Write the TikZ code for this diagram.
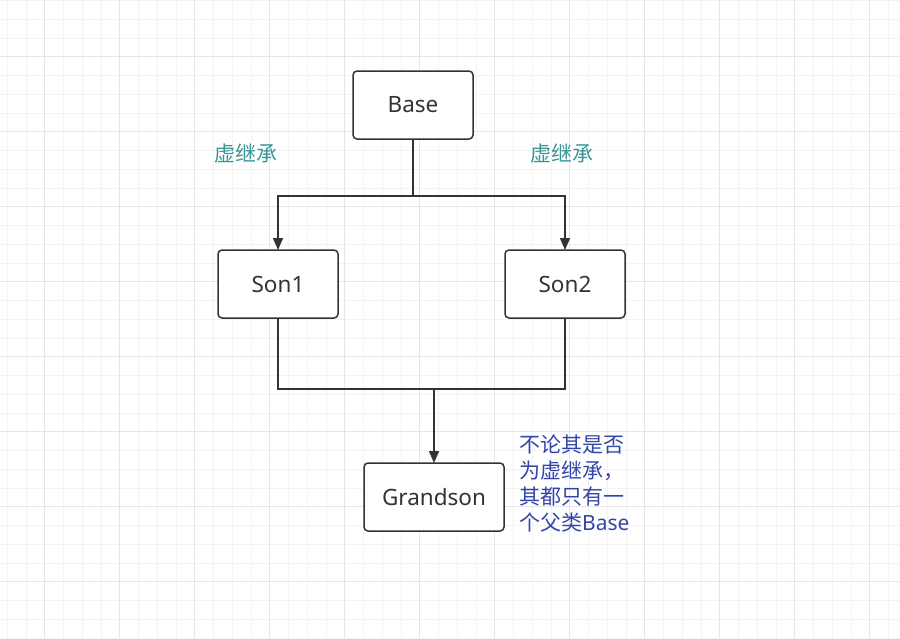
\documentclass[tikz,border=0pt]{standalone}
\usepackage{fontspec}
\setmainfont{Noto Sans}
\newfontfamily\cjk{Noto Sans CJK SC}
\usetikzlibrary{arrows.meta}
\definecolor{gridminor}{HTML}{F3F3F3}
\definecolor{gridmajor}{HTML}{E6E6E6}
\definecolor{ink}{HTML}{333333}
\definecolor{tealtxt}{HTML}{3A9696}
\definecolor{bluetxt}{HTML}{3445AA}
\tikzset{
  box/.style={draw=ink, line width=1.5pt, rounded corners=4pt, fill=white,
    minimum width=120pt, minimum height=68pt, inner sep=0pt, outer sep=0pt,
    text=ink, font=\fontsize{22.5pt}{26pt}\selectfont},
  conn/.style={draw=ink, line width=1.5pt},
  arr/.style={conn, -{Triangle[length=12pt,width=10pt]}},
  note/.style={font=\fontsize{21pt}{25pt}\selectfont\cjk, inner sep=0pt}
}
\begin{document}
\begin{tikzpicture}[x=1pt,y=-1pt]
\useasboundingbox (0,0) rectangle (900,638);
\fill[white] (0,0) rectangle (900,638);
% grid
\foreach \i in {0,...,48} {
  \pgfmathsetmacro{\xx}{7.3+18.75*\i}
  \draw[gridminor, line width=1pt] (\xx,0) -- (\xx,638);
}
\foreach \i in {0,...,34} {
  \pgfmathsetmacro{\yy}{0.5+18.75*\i}
  \draw[gridminor, line width=1pt] (0,\yy) -- (900,\yy);
}
\foreach \i in {0,...,11} {
  \pgfmathsetmacro{\xx}{44.8+75*\i}
  \draw[gridmajor, line width=1pt] (\xx,0) -- (\xx,638);
}
\foreach \i in {0,...,8} {
  \pgfmathsetmacro{\yy}{56.5+75*\i}
  \draw[gridmajor, line width=1pt] (0,\yy) -- (900,\yy);
}
% nodes
\node[box] (Base) at (413,105) {Base};
\node[box] (Son1) at (278,284) {Son1};
\node[box] (Son2) at (565,284) {Son2};
\node[box, minimum width=140pt] (Grandson) at (434,497) {Grandson};
\coordinate (j1) at (413,196);
\coordinate (j2) at (434,389);
% connectors
\draw[conn] (Base.south) -- (j1);
\draw[arr] (j1) -| (Son1.north);
\draw[arr] (j1) -| (Son2.north);
\draw[conn] (Son1.south) |- (j2);
\draw[conn] (Son2.south) |- (j2);
\draw[arr] (j2) -- (Grandson.north);
% labels
\node[note, text=tealtxt] (v1) at (246,153) {虚继承};
\node[note, text=tealtxt] (v2) at (562,153) {虚继承};
\node[note, text=bluetxt, anchor=west, align=left,
  font=\fontsize{21pt}{26pt}\selectfont\cjk] (n) at (519,484)
  {不论其是否\\为虚继承，\\其都只有一\\个父类{\rmfamily Base}};
\end{tikzpicture}
\end{document}
